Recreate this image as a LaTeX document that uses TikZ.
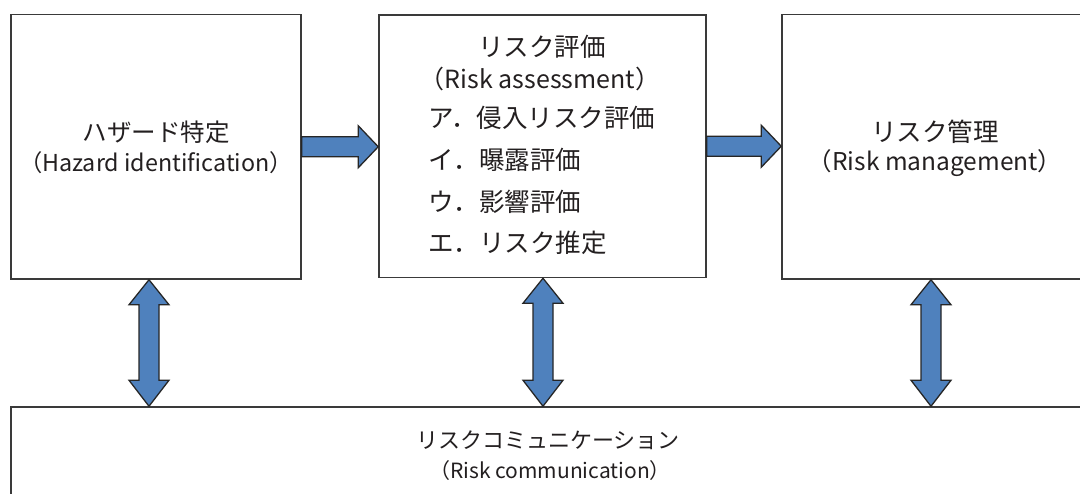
\documentclass[tikz,border=0pt]{standalone}
\usepackage{fontspec}
\setmainfont{Noto Sans CJK JP}
\usetikzlibrary{calc}
\definecolor{arrowblue}{HTML}{4F81BD}
\definecolor{boxline}{HTML}{3A3A3A}
\definecolor{textcol}{HTML}{231F20}
\tikzset{
  box/.style={draw=boxline, line width=1.5pt, rectangle, inner sep=0pt},
  barrow/.style={fill=arrowblue, draw=black!85, line width=1.3pt, line join=miter},
  txt/.style={inner sep=0pt, text=textcol},
  sz/.style={font=\fontsize{#1}{30}\selectfont},
  lst/.style={txt, sz=25.5, anchor=west},
}
\newcommand\hblockarrow[2]{\draw[barrow] let \p1=(#1), \p2=(#2) in
  (\x1,\y1+10pt) -- (\x2-20pt,\y1+10pt) -- (\x2-20pt,\y1+21pt) -- (\x2,\y1)
  -- (\x2-20pt,\y1-21pt) -- (\x2-20pt,\y1-10pt) -- (\x1,\y1-10pt) -- cycle;}
\newcommand\vblockarrow[2]{\draw[barrow] let \p1=(#1), \p2=(#2) in
  (\x1,\y1) -- (\x1+20pt,\y1-25pt) -- (\x1+10pt,\y1-25pt) -- (\x1+10pt,\y2+26pt)
  -- (\x1+20pt,\y2+26pt) -- (\x1,\y2) -- (\x1-20pt,\y2+26pt) -- (\x1-10pt,\y2+26pt)
  -- (\x1-10pt,\y1-25pt) -- (\x1-20pt,\y1-25pt) -- cycle;}
\begin{document}
\begin{tikzpicture}[x=1pt,y=-1pt]
\clip (0,0) rectangle (1080,494);
% boxes
\node[box, minimum width=290pt, minimum height=264.5pt] (hz) at (156,146.75) {};
\node[box, minimum width=327pt, minimum height=262.5pt] (ra) at (542.5,146.25) {};
\node[box, minimum width=310pt, minimum height=264.5pt] (rm) at (937,146.75) {};
\node[box, minimum width=1079pt, minimum height=103pt] (comm) at (550.5,458.5) {};
% texts
\node[txt, sz=24.5] (hzt1) at (156,132) {ハザード特定};
\node[txt, sz=23.3] (hzt2) at (156,163) {（Hazard identification）};
\node[txt, sz=25.5] (rmt1) at (935,132) {リスク管理};
\node[txt, sz=24.5] (rmt2) at (935,163) {（Risk management）};
\node[txt, sz=25.5] (rat1) at (542,47) {リスク評価};
\node[txt, sz=25] (rat2) at (540,79) {（Risk assessment）};
\node[lst] (li1) at (428,118) {ア．侵入リスク評価};
\node[lst] (li2) at (428,160) {イ．曝露評価};
\node[lst] (li3) at (428,202) {ウ．影響評価};
\node[lst] (li4) at (428,243) {エ．リスク推定};
\node[txt, sz=22] (ct1) at (548,440) {リスクコミュニケーション};
\node[txt, sz=21] (ct2) at (550,471) {（Risk communication）};
% arrows
\hblockarrow{hz.east}{ra.west}
\hblockarrow{ra.east}{rm.west}
\vblockarrow{$(hz.south)+(-7,0)$}{comm.north}
\vblockarrow{$(ra.south)+(0.5,0)$}{comm.north}
\vblockarrow{$(rm.south)+(-6,0)$}{comm.north}
\end{tikzpicture}
\end{document}
